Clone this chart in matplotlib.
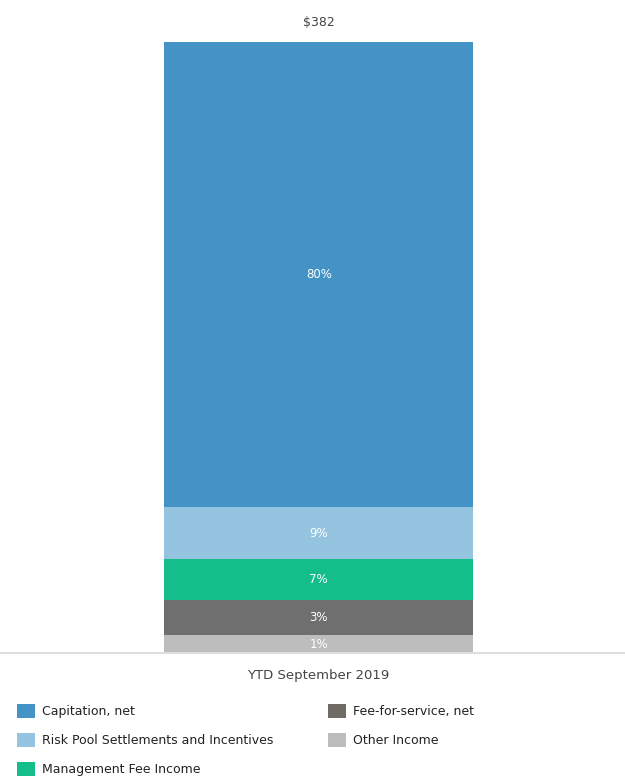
import matplotlib.pyplot as plt
from matplotlib.patches import Patch

# Revenue mix, YTD September 2019 (segment sizes in $M)
CATEGORY = "YTD September 2019"
SEGMENTS = [
    "Other Income",
    "Fee-for-service, net",
    "Management Fee Income",
    "Risk Pool Settlements and Incentives",
    "Capitation, net",
]
VALUES = [11, 22, 26, 32, 291]
PCT_LABELS = ["1%", "3%", "7%", "9%", "80%"]
TOTAL_LABEL = "$382"

COLORS = {
    "Capitation, net": "#4393c6",
    "Risk Pool Settlements and Incentives": "#94c4e0",
    "Management Fee Income": "#14be8a",
    "Fee-for-service, net": "#6f6f6f",
    "Other Income": "#bdbdbd",
}
LEGEND_ORDER = [
    "Capitation, net",
    "Risk Pool Settlements and Incentives",
    "Management Fee Income",
    "Fee-for-service, net",
    "Other Income",
]
LEGEND_COLORS = {"Fee-for-service, net": "#6e6a64"}

plt.rcParams["font.family"] = ["DejaVu Sans"]

fig = plt.figure(figsize=(6.25, 7.82), dpi=100)
bottom_frac = (782 - 653) / 782
top_frac = (782 - 42) / 782
ax = fig.add_axes([0.0, bottom_frac, 1.0, top_frac - bottom_frac])

base = 0
for name, val, lab in zip(SEGMENTS, VALUES, PCT_LABELS):
    ax.bar(0, val, bottom=base, width=0.494, color=COLORS[name], linewidth=0)
    ax.text(0, base + val / 2, lab, ha="center", va="center",
            color="white", fontsize=8.5)
    base += val

ax.text(0, base + 12, TOTAL_LABEL, ha="center", va="center",
        color="#444444", fontsize=9)

ax.set_xlim(-0.51, 0.49)
ax.set_ylim(0, sum(VALUES))
for side in ["top", "left", "right"]:
    ax.spines[side].set_visible(False)
ax.spines["bottom"].set_color("#dddddd")
ax.spines["bottom"].set_linewidth(1.5)
ax.set_xticks([])
ax.set_yticks([])

fig.text(318 / 625, 1 - 676 / 782, CATEGORY, ha="center", va="center",
         color="#444444", fontsize=9.5)

handles = [Patch(facecolor=LEGEND_COLORS.get(n, COLORS[n]), edgecolor="none")
           for n in LEGEND_ORDER]
fig.legend(handles, LEGEND_ORDER, ncol=2, loc="upper left",
           bbox_to_anchor=(17 / 625, 1 - 704 / 782), frameon=False,
           fontsize=9, handlelength=1.4, handleheight=1.4,
           handletextpad=0.6, columnspacing=4.4, labelspacing=1.15,
           borderaxespad=0, borderpad=0, labelcolor="#222222")

fig.savefig("out.png", dpi=100, facecolor="white")
